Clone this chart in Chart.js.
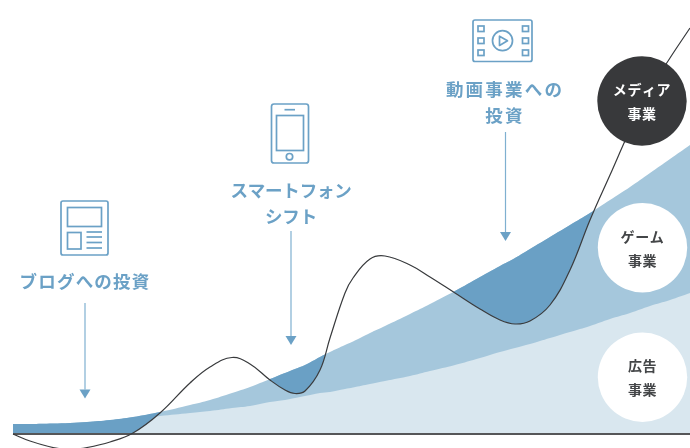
<!DOCTYPE html>
<html lang="ja">
<head>
<meta charset="utf-8">
<title>事業の変遷</title>
<script src="https://cdn.jsdelivr.net/npm/chart.js@4"></script>
<style>
  html, body { margin: 0; padding: 0; background: #fff; }
  #wrap { width: 690px; height: 448px; }
</style>
</head>
<body>
<div id="wrap"><canvas id="myChart" width="690" height="448"></canvas></div>
<script>
// Datos
const tiempo = [0, 1.7, 4, 5.7, 7.4, 9.7, 12, 14.7, 17.7, 19.7, 21.9, 23.7, 25.7, 27.2, 28.2, 29.2, 30.7, 31.7, 33.2, 34, 35.7, 37.2, 39.7, 41.7, 44.2, 46.7, 48.7, 50.2, 51.7, 53.7, 55.7, 57.7, 59.7, 61.7, 63.7, 65.7, 67.7];
const curvaMedia = [0, -0.7, -1.35, -1.55, -1.35, -0.8, 0.1, 2.1, 5.1, 6.7, 7.65, 7.0, 5.4, 4.4, 4.05, 4.3, 6.4, 9.6, 14.1, 15.6, 17.5, 17.8, 16.9, 15.7, 14.1, 12.5, 11.4, 11, 11.3, 12.9, 16.4, 21.4, 25.9, 30.4, 34.4, 37.6, 40.6];
const topeJuego = [1, 1, 1.05, 1.1, 1.2, 1.4, 1.7, 2.2, 2.9, 3.4, 4.1, 4.7, 5.5, 6.1, 6.5, 6.9, 7.7, 8.2, 8.9, 9.25, 10.1, 10.8, 12, 13, 14.3, 15.7, 16.8, 17.6, 18.5, 19.7, 20.9, 22.1, 23.4, 24.7, 26.1, 27.5, 28.9];
const topeAnuncio = [0.6, 0.65, 0.7, 0.8, 0.9, 1.2, 1.5, 1.8, 2.1, 2.3, 2.6, 2.8, 3.2, 3.4, 3.6, 3.8, 4.1, 4.2, 4.5, 4.65, 5, 5.3, 5.8, 6.3, 6.9, 7.6, 8.2, 8.6, 9, 9.6, 10.2, 10.8, 11.5, 12.1, 12.8, 13.4, 14.1];
const lineaBase = tiempo.map(() => 0);

const textoBlog = ['ブログへの投資'];
const textoSmart = ['スマートフォン', 'シフト'];
const textoVideo = ['動画事業への', '投資'];
const textoMedia = ['メディア', '事業'];
const textoJuego = ['ゲーム', '事業'];
const textoAnuncio = ['広告', '事業'];

const puntos = (valores) => valores.map((v, i) => ({ x: tiempo[i], y: v }));

const AZUL = '#6ba1c6';
const AZUL_FLECHA = '#7fb0d0';
const FUENTE = '"Noto Sans CJK JP", "Noto Sans", sans-serif';

function rectRedondo(ctx, x, y, w, h, r) {
    ctx.beginPath();
    ctx.roundRect(x, y, w, h, r);
    ctx.stroke();
}

function flecha(ctx, x, y1, y2) {
    ctx.strokeStyle = AZUL_FLECHA;
    ctx.fillStyle = AZUL;
    ctx.lineWidth = 1.2;
    ctx.beginPath();
    ctx.moveTo(x, y1);
    ctx.lineTo(x, y2);
    ctx.stroke();
    ctx.beginPath();
    ctx.moveTo(x - 5.5, y2);
    ctx.lineTo(x + 5.5, y2);
    ctx.lineTo(x, y2 + 9);
    ctx.closePath();
    ctx.fill();
}

function titulo(ctx, lineas, x, y, espacio) {
    ctx.fillStyle = AZUL;
    ctx.font = '700 17.5px ' + FUENTE;
    ctx.letterSpacing = espacio + 'px';
    ctx.textAlign = 'center';
    ctx.textBaseline = 'middle';
    lineas.forEach((t, i) => ctx.fillText(t, x, y + i * 26));
}

function burbuja(ctx, lineas, x, y, fondo, tinta) {
    ctx.fillStyle = fondo;
    ctx.beginPath();
    ctx.arc(x, y, 44.7, 0, Math.PI * 2);
    ctx.fill();
    ctx.fillStyle = tinta;
    ctx.font = '700 14px ' + FUENTE;
    ctx.letterSpacing = '0.6px';
    ctx.textAlign = 'center';
    ctx.textBaseline = 'middle';
    ctx.fillText(lineas[0], x, y - 11.5);
    ctx.fillText(lineas[1], x, y + 12.5);
}

function iconoPeriodico(ctx) {
    rectRedondo(ctx, 61, 201, 47, 54, 2);
    ctx.strokeRect(67.5, 207.5, 34, 19);
    ctx.strokeRect(67.5, 232.5, 13.5, 16.5);
    [232, 237, 242.5, 248].forEach((y) => {
        ctx.beginPath();
        ctx.moveTo(86.5, y);
        ctx.lineTo(102, y);
        ctx.stroke();
    });
}

function iconoMovil(ctx) {
    rectRedondo(ctx, 271.5, 104, 37, 59, 2.5);
    ctx.strokeRect(276.5, 115.5, 27, 35);
    ctx.beginPath();
    ctx.moveTo(284.5, 109.7);
    ctx.lineTo(295, 109.7);
    ctx.stroke();
    ctx.beginPath();
    ctx.arc(289.5, 156.7, 3.2, 0, Math.PI * 2);
    ctx.stroke();
}

function iconoVideo(ctx) {
    rectRedondo(ctx, 473, 20, 59, 41.5, 2);
    [26, 38, 50].forEach((y) => {
        ctx.strokeRect(478, y, 6, 5.5);
        ctx.strokeRect(522.5, y, 6, 5.5);
    });
    ctx.beginPath();
    ctx.arc(502.5, 40.7, 10, 0, Math.PI * 2);
    ctx.stroke();
    ctx.lineJoin = 'round';
    ctx.beginPath();
    ctx.moveTo(499.5, 36.2);
    ctx.lineTo(499.5, 45.4);
    ctx.lineTo(507.5, 40.8);
    ctx.closePath();
    ctx.stroke();
}

// Plugin para las burbujas, flechas, iconos y titulos encima de las areas
const anotaciones = {
    id: 'anotaciones',
    afterDatasetsDraw(chart) {
        const ctx = chart.ctx;
        ctx.save();
        burbuja(ctx, textoMedia, 642, 101, '#38393b', '#ffffff');
        burbuja(ctx, textoJuego, 642.5, 247.7, '#ffffff', '#444648');
        burbuja(ctx, textoAnuncio, 642.5, 377.2, '#ffffff', '#444648');

        flecha(ctx, 85, 303, 389.5);
        flecha(ctx, 291, 231, 336);
        flecha(ctx, 505.5, 132, 232);

        titulo(ctx, textoBlog, 85, 281, 1.2);
        titulo(ctx, textoSmart, 291, 190, -0.2);
        titulo(ctx, textoVideo, 505, 89, 2.2);

        ctx.strokeStyle = AZUL;
        ctx.lineWidth = 1.7;
        iconoPeriodico(ctx);
        iconoMovil(ctx);
        iconoVideo(ctx);
        ctx.restore();
    }
};

const curva = { tension: 0.4, pointRadius: 0 };

new Chart(document.getElementById('myChart').getContext('2d'), {
    type: 'line',
    data: {
        datasets: [
            { ...curva, data: puntos(curvaMedia), borderColor: '#3a3b3d', borderWidth: 1.2, fill: false },
            // mascara blanca bajo la linea base, para que el azul no pase de cero
            { ...curva, data: puntos(lineaBase), borderColor: '#555658', borderWidth: 2, fill: { target: 'start', above: '#ffffff', below: '#ffffff' } },
            { ...curva, data: puntos(topeJuego), borderWidth: 0, borderColor: 'transparent', fill: { target: 0, above: '#6aa0c5', below: 'transparent' } },
            { ...curva, data: puntos(topeAnuncio), borderWidth: 0, borderColor: 'transparent', backgroundColor: '#d9e7ef', fill: { value: 0 } },
            { ...curva, data: puntos(topeJuego), borderWidth: 0, borderColor: 'transparent', backgroundColor: '#a5c7dc', fill: { value: 0 } }
        ]
    },
    options: {
        responsive: false,
        animation: false,
        layout: { padding: 0 },
        plugins: { legend: { display: false }, tooltip: { enabled: false } },
        scales: {
            x: { type: 'linear', min: -1.3, max: 67.7, display: false },
            y: { min: -1.4, max: 43.4, display: false }
        }
    },
    plugins: [anotaciones]
});
</script>
</body>
</html>
